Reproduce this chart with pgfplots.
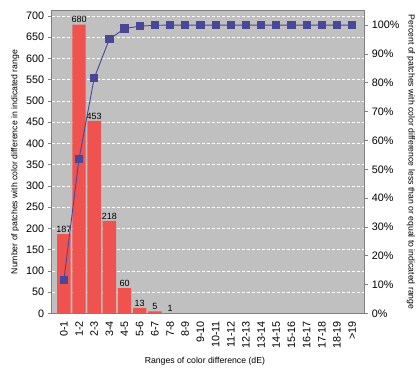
\documentclass[border=0pt]{standalone}
\usepackage{pgfplots}
\pgfplotsset{compat=1.18}
\usepackage{fontspec}
\setmainfont{Liberation Sans}
\definecolor{bggray}{RGB}{192,192,192}
\definecolor{axgray}{RGB}{128,128,128}
\definecolor{barred}{RGB}{240,82,80}
\definecolor{navy}{RGB}{72,72,150}
\begin{document}
\begin{tikzpicture}
\pgfplotsset{
  common/.style={
    at={(0,0)}, anchor=south west,
    width=312.6pt, height=302.8pt, scale only axis,
    xmin=-0.8, xmax=19.8,
    /pgf/number format/assume math mode=true,
    tick label style={font=\fontsize{10.8}{12}\selectfont},
    label style={font=\fontsize{8.7}{10}\selectfont},
    axis line style={draw=axgray, line width=0.8pt},
    tick align=outside, major tick length=4pt,
    ytick style={draw=axgray, line width=0.8pt},
  }
}
\begin{axis}[common,
  ymin=0, ymax=712.5,
  ytick={0,50,...,700},
  ytick pos=left,
  axis background/.style={fill=bggray},
  ymajorgrids, grid style={white, dash pattern=on 3pt off 2pt, line width=0.7pt},
  xtick={0,...,19},
  xticklabels={0-1,1-2,2-3,3-4,4-5,5-6,6-7,7-8,8-9,9-10,10-11,11-12,12-13,13-14,14-15,15-16,16-17,17-18,18-19,>19},
  x tick label style={rotate=90, anchor=east},
  xtick style={draw=none},
  xlabel={Ranges of color difference (dE)},
  xlabel style={at={(axis description cs:0.49,-0.157)}, anchor=center},
  ylabel={Number of patches with color difference in indicated range},
  ylabel style={at={(axis description cs:-0.117,0.5)}, anchor=center},
  ybar, bar width=13.4pt,
  nodes near coords,
  nodes near coords style={font=\fontsize{9}{10}\selectfont, inner sep=1.5pt},
]
\addplot[fill=barred, draw=none] coordinates {
(0,187) (1,680) (2,453) (3,218) (4,60) (5,13) (6,5) (7,1)
};
\end{axis}
\begin{axis}[common,
  ymin=0, ymax=105,
  axis x line=none,
  axis y line*=right,
  ytick={0,10,...,100},
  yticklabels={0\%,10\%,20\%,30\%,40\%,50\%,60\%,70\%,80\%,90\%,100\%},
  ylabel={Percent of patches with color difference less than or equal to indicated range},
  ylabel style={at={(axis description cs:1.149,0.5)}, anchor=center, rotate=180},
]
\addplot[color=navy, line width=0.9pt, mark=square*, mark size=3.6pt, mark options={fill=navy, draw=navy}] coordinates {
(0,11.56) (1,53.62) (2,81.63) (3,95.11) (4,98.83) (5,99.63) (6,99.94) (7,100) (8,100) (9,100)
(10,100) (11,100) (12,100) (13,100) (14,100) (15,100) (16,100) (17,100) (18,100) (19,100)
};
\end{axis}
\pgfresetboundingbox
\useasboundingbox (-51.7pt,-55.5pt) rectangle (368.3pt,313.5pt);
\end{tikzpicture}
\end{document}
